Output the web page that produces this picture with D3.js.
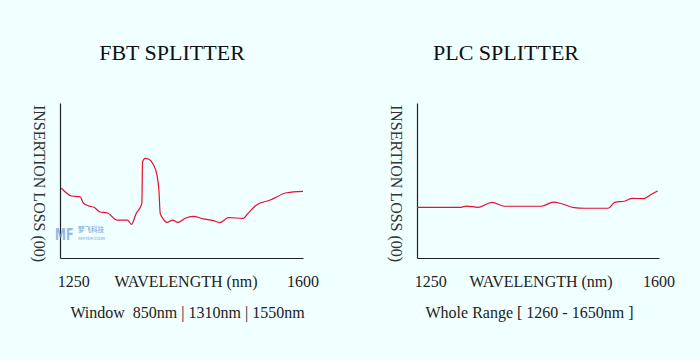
<!DOCTYPE html>
<html>
<head>
<meta charset="utf-8">
<script src="https://cdn.jsdelivr.net/npm/d3@7/dist/d3.min.js"></script>
<style>
  html, body { margin: 0; padding: 0; background: #f0ffff; }
  svg { display: block; }
  text { font-family: "Liberation Serif", "Times New Roman", serif; fill: #222; white-space: pre; }
</style>
</head>
<body>
<svg id="chart" width="700" height="360"></svg>
<script>
// ---- data ----
const chartTitles = ["FBT SPLITTER", "PLC SPLITTER"];
const subtitles = ["Window  850nm | 1310nm | 1550nm", "Whole Range [ 1260 - 1650nm ]"];
const xTickLabels = [1250, 1600];
const xAxisTitle = "WAVELENGTH (nm)";
const yAxisTitle = "INSERTION LOSS (00)";
const watermark = ["MF", "梦飞科技", "MFISP.COM"];

// FBT splitter: wavelength (nm) and relative insertion loss
const fbtWavelength = [1231, 1247, 1260, 1264, 1272, 1281, 1290, 1301, 1316, 1332, 1338, 1345, 1354, 1355, 1359, 1364, 1371, 1377, 1380, 1382, 1386, 1392, 1401, 1409, 1420, 1432, 1448, 1463, 1473, 1486, 1509, 1516, 1529, 1550, 1575, 1600];
const fbtLoss       = [45.0, 40.0, 39.5, 35.9, 33.7, 32.7, 29.7, 29.2, 24.5, 24.5, 21.7, 28.4, 35.3, 62.1, 64.3, 63.9, 60.6, 53.5, 43.9, 28.8, 25.6, 23.0, 24.5, 23.0, 25.6, 26.9, 25.2, 24.1, 22.8, 26.0, 25.6, 28.8, 34.2, 37.4, 42.1, 43.0];

// PLC splitter
const plcWavelength = [1229, 1296, 1305, 1323, 1344, 1363, 1420, 1438, 1451, 1470, 1486, 1522, 1532, 1548, 1559, 1576, 1589, 1598];
const plcLoss       = [32.7, 32.7, 33.5, 32.7, 35.9, 33.4, 33.4, 36.1, 35.0, 32.5, 32.1, 32.1, 35.9, 36.8, 38.5, 38.3, 41.3, 43.2];

const xDomain = [1229, 1600];
const yDomain = [0, 100];

// ---- layout ----
const svg = d3.select("#chart");
const panels = [
  { x0: 60, x1: 303, titleX: 172, subX: 187.5, axisTitleX: 186, yLabelX: 34,
    wl: fbtWavelength, loss: fbtLoss },
  { x0: 417, x1: 659, titleX: 506, subX: 529.5, axisTitleX: 541, yLabelX: 391,
    wl: plcWavelength, loss: plcLoss }
];
const yTop = 103, yBottom = 258;

panels.forEach((p, i) => {
  const g = svg.append("g");
  const x = d3.scaleLinear().domain(xDomain).range([p.x0, p.x1]);
  const y = d3.scaleLinear().domain(yDomain).range([yBottom, yTop]);

  // title
  g.append("text").attr("x", p.titleX).attr("y", 60)
    .attr("text-anchor", "middle").style("font-size", "22px").style("fill", "#111")
    .text(chartTitles[i]);

  // axes
  g.append("g").attr("transform", `translate(0,${yBottom})`)
    .call(d3.axisBottom(x).tickValues([]).tickSizeOuter(0))
    .call(s => s.select(".domain").attr("stroke", "#222").attr("stroke-width", 1.2));
  g.append("g").attr("transform", `translate(${p.x0},0)`)
    .call(d3.axisLeft(y).tickValues([]).tickSizeOuter(0))
    .call(s => s.select(".domain").attr("stroke", "#222").attr("stroke-width", 1.2));

  // tick labels
  xTickLabels.forEach(v => {
    g.append("text").attr("x", x(v)).attr("y", 287)
      .attr("text-anchor", "middle").style("font-size", "16px").text(v);
  });
  g.append("text").attr("x", p.axisTitleX).attr("y", 287)
    .attr("text-anchor", "middle").style("font-size", "16px").text(xAxisTitle);

  // subtitle
  g.append("text").attr("x", p.subX).attr("y", 318)
    .attr("text-anchor", "middle").style("font-size", "16px").text(subtitles[i]);

  // y title (rotated clockwise)
  g.append("text")
    .attr("transform", `translate(${p.yLabelX},${(yTop + yBottom) / 2 + 3}) rotate(90)`)
    .attr("text-anchor", "middle").style("font-size", "16px").style("fill", "#333")
    .text(yAxisTitle);

  // watermark on first panel
  if (i === 0) {
    const wm = g.append("g").attr("opacity", 0.7);
    wm.append("text").attr("transform", "translate(55,240) scale(1,1.5)")
      .style("font-family", "DejaVu Sans, sans-serif").style("font-weight", "bold")
      .style("font-size", "11px").style("fill", "#6f9bd3")
      .text(watermark[0]);
    wm.append("text").attr("x", 78).attr("y", 232)
      .style("font-family", "'Noto Sans CJK SC', sans-serif").style("font-weight", "bold")
      .style("font-size", "6.5px").style("fill", "#6f9bd3").text(watermark[1]);
    wm.append("text").attr("x", 78).attr("y", 239.5)
      .style("font-family", "DejaVu Sans, sans-serif").style("font-weight", "bold")
      .style("font-size", "4.3px").style("fill", "#8fb0dc").text(watermark[2]);
  }

  // curve
  const pts = p.wl.map((w, k) => [w, p.loss[k]]);
  const line = d3.line().x(d => x(d[0])).y(d => y(d[1])).curve(d3.curveMonotoneX);
  g.append("path").datum(pts).attr("d", line)
    .attr("fill", "none").attr("stroke", "#e8102a").attr("stroke-width", 1.2);
});
</script>
</body>
</html>
